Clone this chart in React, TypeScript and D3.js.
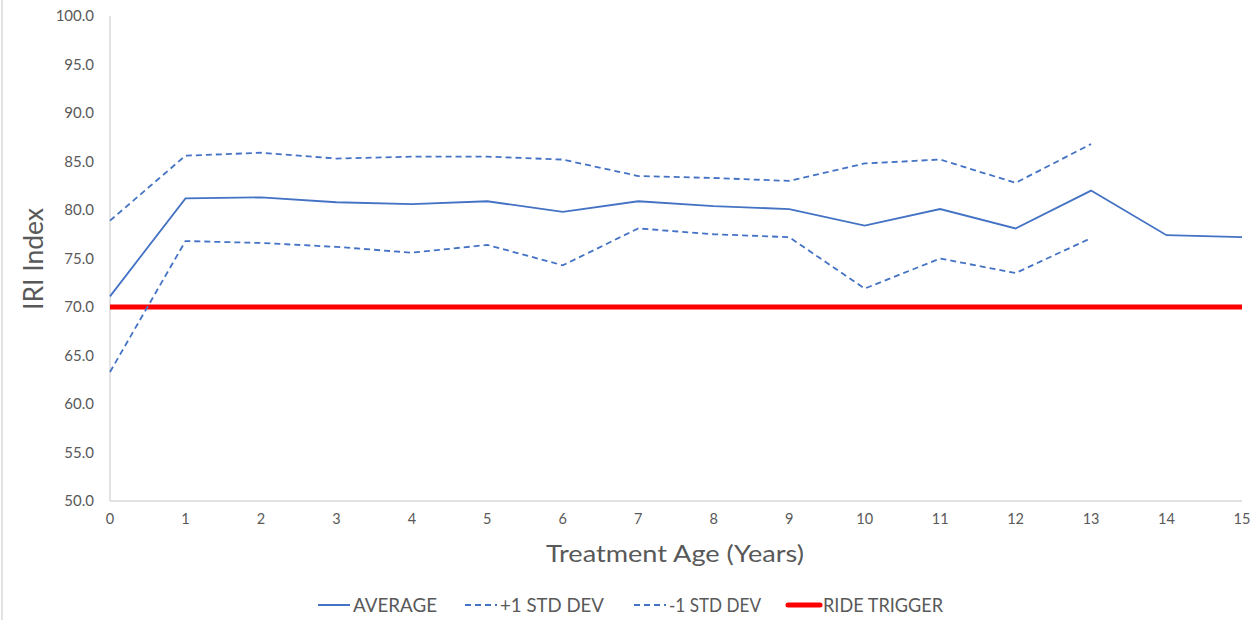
import * as d3 from "d3";
import React from "react";

const years = d3.range(0, 16);
const average = [71.1, 81.2, 81.3, 80.8, 80.6, 80.9, 79.8, 80.9, 80.4, 80.1, 78.4, 80.1, 78.1, 82.0, 77.4, 77.2];
const plusStd = [78.9, 85.6, 85.9, 85.3, 85.5, 85.5, 85.2, 83.5, 83.3, 83.0, 84.8, 85.2, 82.8, 86.8];
const minusStd = [63.3, 76.8, 76.6, 76.2, 75.6, 76.4, 74.3, 78.1, 77.5, 77.2, 71.9, 75.0, 73.5, 77.1];
const rideTrigger = years.map(() => 70);
const yTicks = d3.range(50, 100.1, 5);

const W = 1254, H = 620;
const margin = { top: 16, right: 12, bottom: 119, left: 110 };
const blue = "#4472C4";
const textGray = "#595959";
const font = "Lato, 'Open Sans', sans-serif";

export default function App() {
  const x = d3.scaleLinear().domain([0, 15]).range([margin.left, W - margin.right]);
  const y = d3.scaleLinear().domain([50, 100]).range([H - margin.bottom, margin.top]);
  const line = d3.line<number>().x((_, i) => x(years[i])).y((d) => y(d));

  // legend entries (x = start of the swatch, len = text width in the reference)
  const legend = [
    { label: "AVERAGE", color: blue, dash: undefined, width: 2, x: 318, len: 84 },
    { label: "+1 STD DEV", color: blue, dash: "6,4", width: 2, x: 465, len: 104 },
    { label: "-1 STD DEV", color: blue, dash: "6,4", width: 2, x: 634, len: 92 },
    { label: "RIDE TRIGGER", color: "#FF0000", dash: undefined, width: 5, x: 788, len: 120 },
  ];

  return (
    <svg width={W} height={H} style={{ position: "absolute", left: 0, top: 0 }}>
      <rect x={0} y={0} width={W} height={H} fill="#fff" />
      <line x1={2} x2={2} y1={0} y2={H} stroke="#d9d9d9" strokeWidth={1.5} />
      {/* axes */}
      <line x1={x(0)} x2={x(0)} y1={y(100)} y2={y(50)} stroke="#d9d9d9" strokeWidth={1.5} />
      <line x1={x(0)} x2={x(15)} y1={y(50)} y2={y(50)} stroke="#d9d9d9" strokeWidth={1.5} />
      {yTicks.map((t) => (
        <text key={t} x={94} y={y(t)} dy="0.35em" textAnchor="end" fontSize={15} fill={textGray} fontFamily={font}>
          {t.toFixed(1)}
        </text>
      ))}
      {years.map((t) => (
        <text key={t} x={x(t)} y={y(50) + 23} textAnchor="middle" fontSize={14.5} fill={textGray} fontFamily={font}>
          {t}
        </text>
      ))}
      <text x={546} y={562} fontSize={24} fill={textGray} fontFamily={font} textLength={258} lengthAdjust="spacingAndGlyphs">
        Treatment Age (Years)
      </text>
      <text transform={`translate(43, 310) rotate(-90)`} fontSize={26} fill={textGray} fontFamily={font} textLength={102} lengthAdjust="spacingAndGlyphs">
        IRI Index
      </text>
      {/* series */}
      <path d={line(rideTrigger) ?? ""} fill="none" stroke="#FF0000" strokeWidth={5} />
      <path d={line(plusStd) ?? ""} fill="none" stroke={blue} strokeWidth={1.8} strokeDasharray="6,4" />
      <path d={line(minusStd) ?? ""} fill="none" stroke={blue} strokeWidth={1.8} strokeDasharray="6,4" />
      <path d={line(average) ?? ""} fill="none" stroke={blue} strokeWidth={1.8} />
      {/* legend */}
      {legend.map((l) => (
        <g key={l.label} transform={`translate(${l.x}, 605)`}>
          <line x1={0} x2={32} y1={0} y2={0} stroke={l.color} strokeWidth={l.width} strokeDasharray={l.dash} strokeLinecap={l.width > 3 ? "round" : undefined} />
          <text x={35} y={0} dy="0.36em" fontSize={20} fill={textGray} fontFamily={font} textLength={l.len} lengthAdjust="spacingAndGlyphs">
            {l.label}
          </text>
        </g>
      ))}
    </svg>
  );
}
